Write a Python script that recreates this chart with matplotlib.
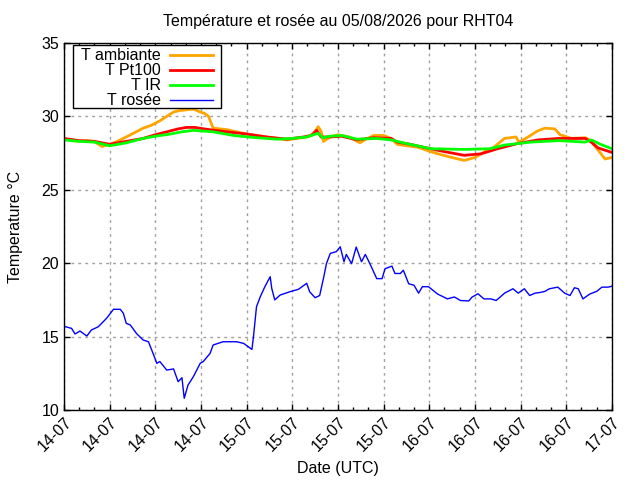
import matplotlib
matplotlib.use('Agg')
import matplotlib.pyplot as plt
import matplotlib.dates as mdates
from matplotlib.patches import Rectangle
import numpy as np

plt.rcParams['font.family'] = ['Liberation Sans', 'DejaVu Sans']

start = np.datetime64('2026-07-14T00:00')

# hours since start, values in deg C
h_amb = [0, 1, 2, 3, 3.9, 5, 6, 7, 8.2, 9.3, 10.4, 11.5, 12.6, 13.5, 14.4, 15.2, 16.1, 17, 17.9,
         18.5, 19, 19.6, 20.5, 21.4, 22.7, 24, 25.3, 26.6, 28, 29.3, 30.6, 31.9, 32.8, 33.4, 33.8,
         34.1, 35, 36, 37.5, 38.9, 39.5, 40.7, 42, 43, 43.8, 45, 46.5, 48.2, 49.5, 51, 52.6, 54,
         55.3, 56.5, 57.9, 59.4, 59.8, 61, 62.2, 63.2, 64.5, 65.2, 66.7, 68.5, 69.1, 70.2, 71.1, 72]
t_amb = [28.45, 28.4, 28.3, 28.35, 28.3, 27.95, 28.1, 28.3, 28.6, 28.9, 29.2, 29.4, 29.7, 30.0,
         30.3, 30.4, 30.45, 30.5, 30.3, 30.2, 30.0, 29.2, 29.15, 29.1, 28.95, 28.8, 28.7, 28.6,
         28.5, 28.4, 28.5, 28.6, 28.8, 29.3, 29.0, 28.3, 28.6, 28.75, 28.6, 28.2, 28.4, 28.7, 28.7,
         28.5, 28.1, 28.0, 27.9, 27.6, 27.4, 27.2, 27.0, 27.2, 27.6, 27.9, 28.5, 28.6, 28.25, 28.6,
         29.0, 29.2, 29.15, 28.75, 28.5, 28.55, 28.4, 27.7, 27.1, 27.2]

h_pt = [0, 2, 4, 6, 8.2, 10.4, 12, 13.5, 15, 16.1, 17.2, 18.4, 19.8, 21.4, 24, 26.6, 29.3, 31.5,
        32.5, 33.2, 33.8, 35, 36.5, 38.5, 40.7, 43, 43.8, 45.5, 47.7, 50, 52.6, 54.8, 57, 59.6,
        62.3, 65, 68.5, 69.3, 70.2, 72]
t_pt = [28.5, 28.35, 28.3, 28.1, 28.3, 28.5, 28.75, 28.95, 29.15, 29.25, 29.25, 29.15, 29.05,
        28.95, 28.8, 28.6, 28.45, 28.6, 28.7, 29.05, 28.6, 28.6, 28.65, 28.4, 28.55, 28.5, 28.25,
        28.1, 27.85, 27.6, 27.35, 27.45, 27.8, 28.15, 28.4, 28.5, 28.5, 28.25, 27.85, 27.55]

h_ir = [0, 2, 4, 6, 8.2, 10.4, 12, 14, 15.5, 17, 18.3, 19.6, 22.3, 25.3, 28, 30, 31.9, 33.4, 34,
        35, 36.5, 38.5, 41, 43, 45, 48.2, 52.6, 56, 57.9, 61.4, 65, 68.5, 69.3, 70.5, 72]
t_ir = [28.4, 28.3, 28.25, 28.0, 28.2, 28.5, 28.65, 28.8, 28.95, 29.05, 29.0, 28.95, 28.7, 28.55,
        28.45, 28.5, 28.6, 28.85, 28.55, 28.65, 28.7, 28.45, 28.5, 28.4, 28.15, 27.8, 27.75, 27.8,
        28.05, 28.25, 28.35, 28.25, 28.4, 28.1, 27.8]

h_dew = [0, 1, 1.45, 2.1, 3, 3.6, 4.5, 5.6, 6.5, 7.4, 7.8, 8.2, 8.7, 9.55, 10.4, 11.1, 11.7, 12.2,
         12.6, 13.5, 14.4, 15, 15.5, 15.8, 16.3, 17, 17.9, 18.3, 19.2, 19.6, 20.9, 22.7, 23.6,
         24.7, 24.9, 25.3, 25.8, 26.4, 27.1, 27.3, 27.7, 28.4, 29.7, 30.8, 31.9, 32.3, 33, 33.6,
         34.1, 34.5, 35, 35.8, 36.3, 36.8, 37.1, 37.8, 38.4, 39.1, 39.6, 40.2, 41.1, 41.8, 42.2,
         43.1, 43.5, 44.2, 44.6, 45.3, 46, 46.6, 47.1, 47.9, 49.1, 50.4, 51.3, 52.1, 53.2, 53.6,
         54.4, 55.2, 56.1, 56.8, 57.9, 59, 59.7, 60.5, 61.2, 61.9, 62.5, 63.2, 63.8, 64.9, 65.8,
         66.5, 67.1, 67.6, 68.2, 69.1, 70, 70.7, 71.5, 72]
t_dew = [15.7, 15.56, 15.18, 15.38, 15.04, 15.45, 15.67, 16.25, 16.86, 16.86, 16.59, 15.9, 15.8,
         15.2, 14.77, 14.65, 13.86, 13.18, 13.3, 12.72, 12.8, 11.93, 12.2, 10.8, 11.7, 12.27,
         13.18, 13.3, 13.86, 14.43, 14.65, 14.65, 14.54, 14.13, 15.0, 17.04, 17.72, 18.4, 19.08,
         18.29, 17.5, 17.83, 18.06, 18.22, 18.63, 18.06, 17.65, 17.8, 18.97, 19.99, 20.67, 20.79,
         21.12, 20.1, 20.6, 19.97, 21.1, 20.1, 20.6, 19.97, 18.95, 18.95, 19.63, 19.8, 19.3, 19.3,
         19.52, 18.6, 18.5, 17.96, 18.4, 18.4, 17.9, 17.57, 17.7, 17.46, 17.43, 17.68, 17.92,
         17.57, 17.57, 17.46, 17.96, 18.26, 17.96, 18.26, 17.8, 17.96, 18.0, 18.08, 18.26, 18.37,
         17.96, 17.8, 18.33, 18.26, 17.57, 17.9, 18.08, 18.37, 18.37, 18.43]


def to_dates(hours):
    return start + (np.array(hours) * 60).astype(int).astype('timedelta64[m]')


fig = plt.figure(figsize=(6.4, 4.8), dpi=100)
ax = fig.add_axes([0.1, 0.1458, 0.856, 0.7646])

ax.plot(to_dates(h_amb), t_amb, color='#ffa500', lw=2, label='T ambiante')
ax.plot(to_dates(h_pt), t_pt, color='#ff0000', lw=2, label='T Pt100')
ax.plot(to_dates(h_ir), t_ir, color='#00ff00', lw=2, label='T IR')
ax.plot(to_dates(h_dew), t_dew, color='#0000ff', lw=1, label='T rosée')

ax.set_xlim(start, start + np.timedelta64(72, 'h'))
ax.set_ylim(10, 35)
ax.set_yticks([10, 15, 20, 25, 30, 35])
ax.xaxis.set_major_locator(mdates.HourLocator(byhour=[0, 6, 12, 18]))
ax.xaxis.set_minor_locator(mdates.HourLocator(byhour=range(0, 24, 2)))
ax.xaxis.set_major_formatter(mdates.DateFormatter('%d-%m'))
for lab in ax.get_xticklabels():
    lab.set_rotation(45)
    lab.set_ha('right')
    lab.set_rotation_mode('anchor')

ax.tick_params(which='both', direction='in', top=True, right=True, labelsize=11.5)
ax.tick_params(which='major', length=4, width=1)
ax.tick_params(which='minor', length=2.5, width=1)
ax.grid(True, which='major', color='#a0a0a0', linestyle=(0, (2, 3)), lw=1)
for s in ax.spines.values():
    s.set_linewidth(1)

ax.set_title('Température et rosée au 05/08/2026 pour RHT04', fontsize=11.5, pad=12)
ax.set_xlabel('Date (UTC)', fontsize=11.5, labelpad=4.5)
ax.set_ylabel('Temperature °C', fontsize=11.5, labelpad=13)

# gnuplot-like key: box drawn separately, text right-aligned before the sample line
ax.add_patch(Rectangle((0.0164, 0.8229), 0.2701, 0.1717, transform=ax.transAxes,
                       facecolor='white', edgecolor='black', lw=1, zorder=4.5))
leg = ax.legend(loc='upper right', bbox_to_anchor=(0.272, 0.986), borderaxespad=0,
                markerfirst=False, fontsize=11.5, frameon=False, labelspacing=0.0,
                handlelength=2.7, borderpad=0, handletextpad=0.55)
leg.set_zorder(5)

fig.savefig('out.png', dpi=100)
